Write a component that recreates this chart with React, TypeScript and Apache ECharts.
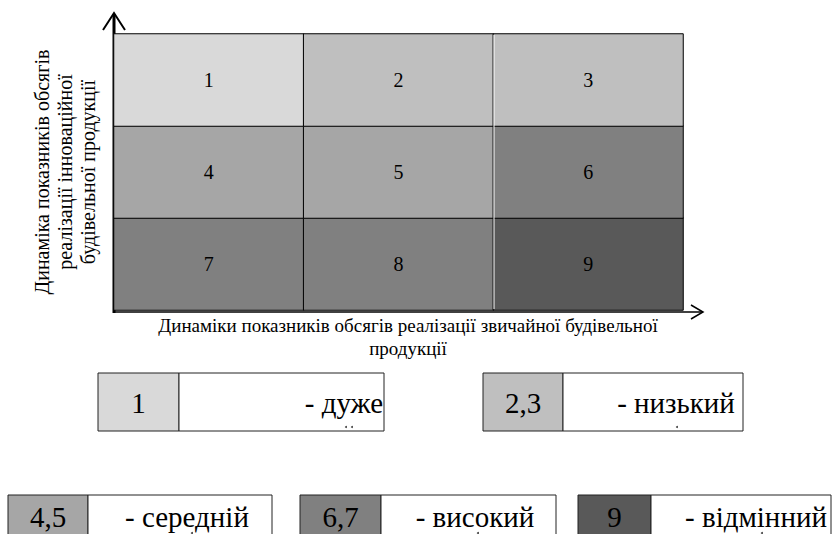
import React, { useEffect, useRef } from "react";
import * as echarts from "echarts";

const xCategories = ["c1", "c2", "c3"];
const yCategories = ["r1", "r2", "r3"]; // bottom to top
const rowTop = [1, 2, 3];
const rowMiddle = [4, 5, 6];
const rowBottom = [7, 8, 9];
const levelValues = [1, 2, 3, 4, 5, 6, 7, 8, 9];
const levelColors = ["#d9d9d9", "#bfbfbf", "#bfbfbf", "#a6a6a6", "#a6a6a6", "#808080", "#808080", "#808080", "#595959"];

const legendKeys = ["1", "2,3", "4,5", "6,7", "9"];
const legendTexts = ["- дуже", "- низький", "- середній", "- високий", "- відмінний"];
const legendSwatches = ["#d9d9d9", "#bfbfbf", "#a6a6a6", "#808080", "#595959"];

const yTitleLines = ["Динаміка показників обсягів", "реалізації інноваційної", "будівельної продукції"];
const xTitleLines = ["Динаміки показників обсягів реалізації звичайної будівельної", "продукції"];

const FONT = "Times New Roman, Liberation Serif, serif";

// layout of legend boxes: [left, separator, right, top, bottom, textCenterX, textCenterY]
const legendLayout = [
  [98, 179, 384, 373, 431, 344, 403],
  [483, 563, 743, 373, 431, 676, 403],
  [8, 88, 272, 495, 560, 187, 517],
  [300, 381, 556, 495, 560, 475, 517],
  [578, 651, 831, 495, 560, 756, 517],
];
// clipped second-line marks under the legend texts: [x, y]
const legendDots = [[346, 427], [352, 427], [677, 427], [192, 533], [478, 533], [762, 533]];

export default function App() {
  const ref = useRef<HTMLDivElement>(null);
  useEffect(() => {
    if (!ref.current) return;
    const chart = echarts.init(ref.current, null, { renderer: "svg" });
    const rows = [rowBottom, rowMiddle, rowTop];
    const data: number[][] = [];
    rows.forEach((row, yi) => row.forEach((v, xi) => data.push([xi, yi, v])));

    const graphic: any[] = [];
    graphic.push({ type: "line", shape: { x1: 114, y1: 313, x2: 114, y2: 14 }, style: { stroke: "#000", lineWidth: 3 } });
    graphic.push({ type: "polyline", shape: { points: [[103, 30], [114, 13], [125, 30]] }, style: { stroke: "#000", lineWidth: 2, fill: "none" } });
    graphic.push({ type: "line", shape: { x1: 113, y1: 312, x2: 703, y2: 312 }, style: { stroke: "#000", lineWidth: 1.5 } });
    graphic.push({ type: "polyline", shape: { points: [[691, 305], [703, 312], [691, 319]] }, style: { stroke: "#000", lineWidth: 1.5, fill: "none" } });
    graphic.push({ type: "line", shape: { x1: 494, y1: 35, x2: 494, y2: 309 }, style: { stroke: "#fff", lineWidth: 1 }, z: 10 });

    graphic.push({
      type: "text",
      x: 65,
      y: 172,
      rotation: Math.PI / 2,
      style: { text: yTitleLines.join("\n"), fontFamily: FONT, fontSize: 20, fill: "#000", align: "center", verticalAlign: "middle", lineHeight: 23 },
    });
    graphic.push({
      type: "text",
      x: 408,
      y: 337,
      style: { text: xTitleLines.join("\n"), fontFamily: FONT, fontSize: 19, fill: "#000", align: "center", verticalAlign: "middle", lineHeight: 23 },
    });

    legendKeys.forEach((k, i) => {
      const [l, s, r, t, b, tx, ty] = legendLayout[i];
      graphic.push({ type: "rect", shape: { x: l, y: t, width: s - l, height: b - t }, style: { fill: legendSwatches[i], stroke: "#222", lineWidth: 1 } });
      graphic.push({ type: "rect", shape: { x: s, y: t, width: r - s, height: b - t }, style: { fill: "#fff", stroke: "#222", lineWidth: 1 } });
      graphic.push({ type: "text", x: (l + s) / 2, y: ty, style: { text: k, fontFamily: FONT, fontSize: 29, fill: "#000", align: "center", verticalAlign: "middle" } });
      graphic.push({ type: "text", x: tx, y: ty, style: { text: legendTexts[i], fontFamily: FONT, fontSize: 29, fill: "#000", align: "center", verticalAlign: "middle" } });
    });
    legendDots.forEach(([x, y]) => {
      graphic.push({ type: "circle", shape: { cx: x, cy: y, r: 1 }, style: { fill: "#444" } });
    });

    chart.setOption({
      animation: false,
      backgroundColor: "#fff",
      grid: { left: 114, top: 34, width: 569, height: 276 },
      xAxis: { type: "category", data: xCategories, show: false },
      yAxis: { type: "category", data: yCategories, show: false },
      visualMap: {
        type: "piecewise",
        show: false,
        dimension: 2,
        pieces: levelValues.map((v, i) => ({ value: v, color: levelColors[i] })),
      },
      series: [
        {
          type: "heatmap",
          data,
          label: { show: true, fontFamily: FONT, fontSize: 20, color: "#000", formatter: (p: any) => String(p.value[2]) },
          itemStyle: { borderColor: "#000", borderWidth: 1 },
          emphasis: { disabled: true },
        },
      ],
      graphic,
    });
    return () => chart.dispose();
  }, []);
  return <div ref={ref} style={{ position: "absolute", left: 0, top: 0, width: 838, height: 534 }} />;
}
